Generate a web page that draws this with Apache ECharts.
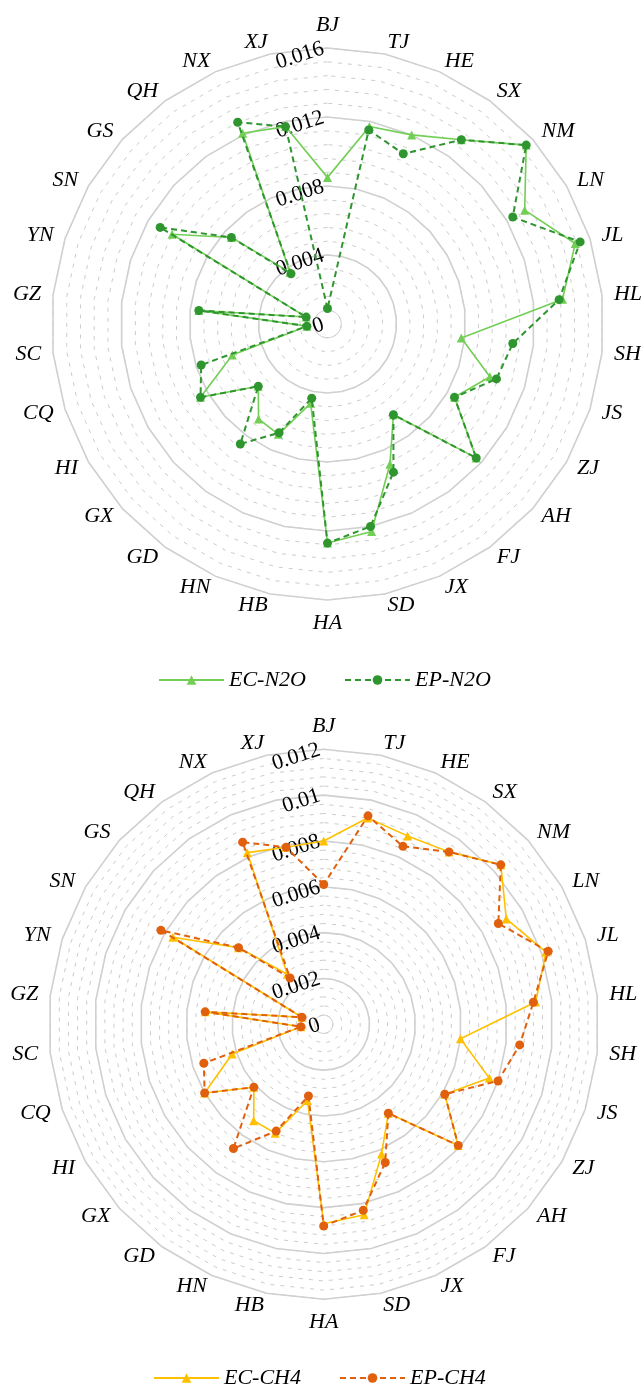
<!DOCTYPE html>
<html>
<head>
<meta charset="utf-8">
<script src="https://cdn.jsdelivr.net/npm/echarts@6/dist/echarts.min.js"></script>
<style>
  html, body { margin: 0; padding: 0; background: #fff; }
  #main { width: 641px; height: 1387px; }
</style>
</head>
<body>
<div id="main"></div>
<script>
// provinces, clockwise from the top
var provinces = ['BJ','TJ','HE','SX','NM','LN','JL','HL','SH','JS','ZJ','AH','FJ','JX','SD',
                 'HA','HB','HN','GD','GX','HI','CQ','SC','GZ','YN','SN','GS','QH','NX','XJ'];

var ecN2O = [0.0085, 0.0117, 0.0120, 0.0132, 0.0155, 0.0132, 0.0151, 0.0137, 0.0078, 0.0099,
             0.0085, 0.0116, 0.0065, 0.0089, 0.0123, 0.0127, 0.0047, 0.0070, 0.0068, 0.0054,
             0.0085, 0.0058, 0.0012, 0.0075, 0.0013, 0.0104, 0.0075, 0.0037, 0.0121, 0.0117];
var epN2O = [0.0009, 0.0115, 0.0108, 0.0132, 0.0155, 0.0124, 0.0154, 0.0135, 0.0108, 0.0103,
             0.0085, 0.0116, 0.0065, 0.0094, 0.0120, 0.0127, 0.0044, 0.0069, 0.0086, 0.0054,
             0.0085, 0.0077, 0.0012, 0.0075, 0.0013, 0.0112, 0.0075, 0.0036, 0.0128, 0.0117];

var ecCH4 = [0.0080, 0.0092, 0.0090, 0.0093, 0.0104, 0.0092, 0.0102, 0.0093, 0.0060, 0.0076,
             0.0061, 0.0079, 0.0048, 0.0062, 0.0085, 0.0087, 0.0034, 0.0052, 0.0052, 0.0041,
             0.0060, 0.0042, 0.0010, 0.0052, 0.0010, 0.0076, 0.0050, 0.0027, 0.0082, 0.0079];
var epCH4 = [0.0061, 0.0093, 0.0085, 0.0093, 0.0104, 0.0088, 0.0103, 0.0092, 0.0086, 0.0080,
             0.0061, 0.0079, 0.0048, 0.0066, 0.0083, 0.0088, 0.0032, 0.0051, 0.0067, 0.0041,
             0.0060, 0.0055, 0.0010, 0.0052, 0.0010, 0.0082, 0.0050, 0.0025, 0.0087, 0.0079];

var maxN2O = 0.016, majorN2O = 4, minorN2O = 20;
var maxCH4 = 0.012, majorCH4 = 6, minorCH4 = 30;

var serif = "Liberation Serif";

// echarts radar runs counter-clockwise, so flip the order after the first one
var order = [0];
for (var k = provinces.length - 1; k >= 1; k--) order.push(k);
function reorder(arr) { return order.map(function (i) { return arr[i]; }); }

function indicators(max, withLabel) {
    return order.map(function (i, n) {
        var o = { name: provinces[i], min: 0, max: max };
        if (withLabel && n === 0) o.axisLabel = { show: true };
        return o;
    });
}

function innerRingColors(n) {
    var c = [];
    for (var i = 0; i <= n; i++) c.push(i === 1 ? '#cfcfcf' : 'rgba(0,0,0,0)');
    return c;
}

function radars(center, radius, max, major, minor) {
    var base = {
        center: center, radius: radius, startAngle: 90,
        axisLine: { show: false }, axisTick: { show: false },
        splitArea: { show: false }, axisName: { show: false },
        axisLabel: { show: false }
    };
    var minorR = Object.assign({}, base, {
        indicator: indicators(max, false), splitNumber: minor,
        splitLine: { lineStyle: { color: '#cccccc', width: 1, type: [4, 6] } }
    });
    var innerR = Object.assign({}, base, {
        indicator: indicators(max, false), splitNumber: minor,
        splitLine: { lineStyle: { color: innerRingColors(minor), width: 1 } }
    });
    var majorR = Object.assign({}, base, {
        indicator: indicators(max, true), splitNumber: major,
        splitLine: { lineStyle: { color: '#d0d0d0', width: 1.6 } },
        nameGap: 12,
        axisName: { show: true, color: '#000', fontSize: 22, fontStyle: 'italic', fontFamily: serif },
        axisLabel: { show: false, rotate: 18, margin: 4, color: '#000', fontSize: 22, fontFamily: serif }
    });
    return [minorR, innerR, majorR];
}

var myChart = echarts.init(document.getElementById('main'));

var cEC1 = '#72CE55', cEP1 = '#2F952F', cEC2 = '#FFC000', cEP2 = '#E0600E';

var legendText = { color: '#000', fontSize: 22, fontStyle: 'italic', fontFamily: serif };

function radarSeries(name, radarIndex, values, color, symbol, dashed) {
    return {
        type: 'radar', name: name, radarIndex: radarIndex,
        symbol: symbol, symbolSize: 9,
        itemStyle: { color: color },
        lineStyle: { color: color, width: dashed ? 2 : 1.6, type: dashed ? [6, 4] : 'solid' },
        data: [{ name: name, value: reorder(values) }],
        z: dashed ? 4 : 3
    };
}

// hidden line series only there to give the legend its line + marker icons
function legendSeries(name, color, symbol, dashed) {
    return {
        type: 'line', name: name, data: [], symbol: symbol,
        itemStyle: { color: color },
        lineStyle: { color: color, width: dashed ? 2 : 1.6, type: dashed ? [6, 4] : 'solid' }
    };
}

option = {
    animation: false,
    backgroundColor: '#fff',
    grid: { show: false, left: 0, top: 0, width: 10, height: 10 },
    xAxis: { show: false, type: 'category', data: [] },
    yAxis: { show: false, type: 'value' },
    radar: [].concat(
        radars([327.5, 324], 276, maxN2O, majorN2O, minorN2O),
        radars([323.7, 1024.3], 275, maxCH4, majorCH4, minorCH4)
    ),
    legend: [
        {
            data: ['EC-N2O', 'EP-N2O'], left: 153, top: 664,
            itemWidth: 65, itemHeight: 12, itemGap: 38, textStyle: legendText
        },
        {
            data: ['EC-CH4', 'EP-CH4'], left: 148, top: 1362,
            itemWidth: 65, itemHeight: 12, itemGap: 38, textStyle: legendText
        }
    ],
    series: [
        legendSeries('EC-N2O', cEC1, 'triangle', false),
        legendSeries('EP-N2O', cEP1, 'circle', true),
        legendSeries('EC-CH4', cEC2, 'triangle', false),
        legendSeries('EP-CH4', cEP2, 'circle', true),
        radarSeries('EC-N2O', 2, ecN2O, cEC1, 'triangle', false),
        radarSeries('EP-N2O', 2, epN2O, cEP1, 'circle', true),
        radarSeries('EC-CH4', 5, ecCH4, cEC2, 'triangle', false),
        radarSeries('EP-CH4', 5, epCH4, cEP2, 'circle', true)
    ]
};

myChart.setOption(option);
window.addEventListener("resize", function () {
    myChart.resize();
});
</script>
</body>
</html>
